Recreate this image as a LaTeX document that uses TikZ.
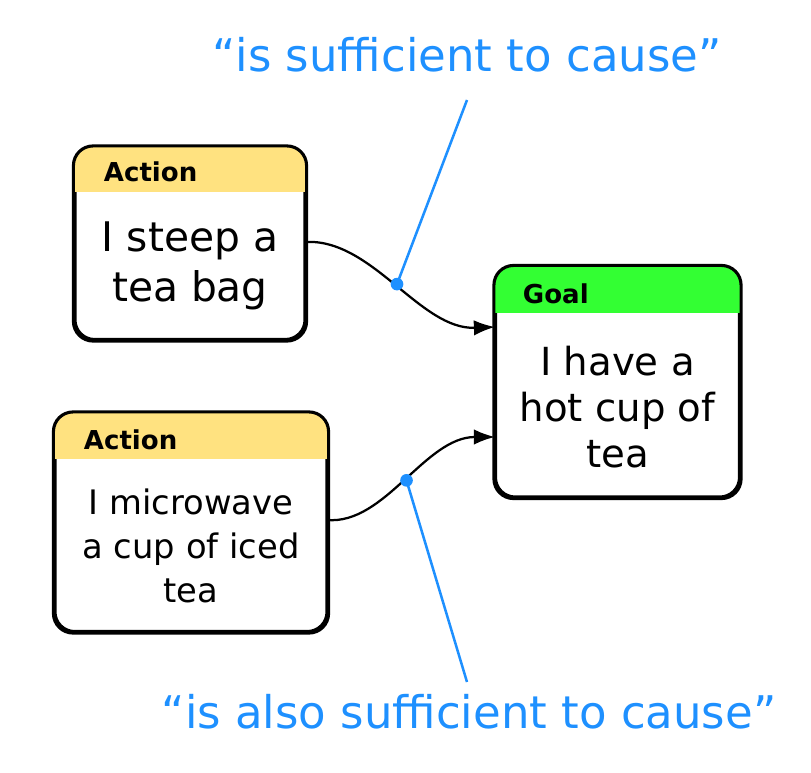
\documentclass[tikz,border=0pt]{standalone}
\usepackage{fontspec}
\setmainfont{DejaVu Sans}
\usetikzlibrary{positioning}
\usetikzlibrary{arrows.meta}
\definecolor{headyellow}{RGB}{255,226,128}
\definecolor{headgreen}{RGB}{51,255,51}
\definecolor{noteblue}{RGB}{30,144,255}
\tikzset{
    card/.style = {rectangle, rounded corners=14pt, draw=black, line width=2.2pt, fill=white, align=center},
    headtext/.style = {font=\fontsize{18.5}{22}\selectfont\bfseries, anchor=west},
    edgen/.style = {line width=1.6pt, -{Latex[length=15pt,width=11pt]}},
    notel/.style = {line width=1.8pt, noteblue},
    notedot/.style = {circle, fill=noteblue, inner sep=0pt, minimum size=9pt},
    notetext/.style = {noteblue, font=\fontsize{32}{38}\selectfont},
}
% header band of a card: name, colour, height
\newcommand{\cardhead}[3]{
  \begin{scope}
    \clip[rounded corners=14pt] (#1.south west) rectangle (#1.north east);
    \fill[#2] (#1.north west) rectangle ([yshift=-#3]#1.north east);
  \end{scope}
  \draw[rounded corners=14pt, line width=2.2pt] (#1.south west) rectangle (#1.north east);
}
\begin{document}
\begin{tikzpicture}[x=0.025cm, y=-0.025cm]
  \useasboundingbox (0,0) rectangle (811,773);

  % cards
  \node[card, minimum width=5.75cm, minimum height=4.8cm] (act1) at (190,243.5) {};
  \node[card, minimum width=6.8cm, minimum height=5.45cm] (act2) at (191,522.5) {};
  \node[card, minimum width=6.1cm, minimum height=5.75cm] (goal) at (617.5,382) {};
  \cardhead{act1}{headyellow}{1.15cm}
  \cardhead{act2}{headyellow}{1.17cm}
  \cardhead{goal}{headgreen}{1.2cm}

  \node[headtext] (act1h) at (99,172) {Action};
  \node[headtext] (act2h) at (79,440) {Action};
  \node[headtext] (goalh) at (518,294) {Goal};

  \node[align=center, font=\fontsize{29}{36}\selectfont] (act1t) at (190,266) {I steep a\\tea bag};
  \node[align=center, font=\fontsize{24}{31}\selectfont] (act2t) at (191,546) {I microwave\\a cup of iced\\tea};
  \node[align=center, font=\fontsize{27.5}{33}\selectfont] (goalt) at (617.5,407) {I have a\\hot cup of\\tea};

  % connectors
  \coordinate (out1) at (305,242);
  \coordinate (in1) at (495,327);
  \coordinate (out2) at (327,520);
  \coordinate (in2) at (495,437);
  \draw[edgen] (out1) .. controls (372,238) and (420,330) .. coordinate[pos=0.5] (mid1) (in1);
  \draw[edgen] (out2) .. controls (385,525) and (425,437) .. coordinate[pos=0.5] (mid2) (in2);

  % notes
  \node[notetext] (note1) at (467,55) {“is sufficient to cause”};
  \node[notetext] (note2) at (469,712) {“is also sufficient to cause”};
  \coordinate (tip1) at (467,100);
  \coordinate (tip2) at (467,682);
  \draw[notel] (mid1) -- (tip1);
  \draw[notel] (mid2) -- (tip2);
  \node[notedot] (dot1) at (mid1) {};
  \node[notedot] (dot2) at (mid2) {};
\end{tikzpicture}
\end{document}
